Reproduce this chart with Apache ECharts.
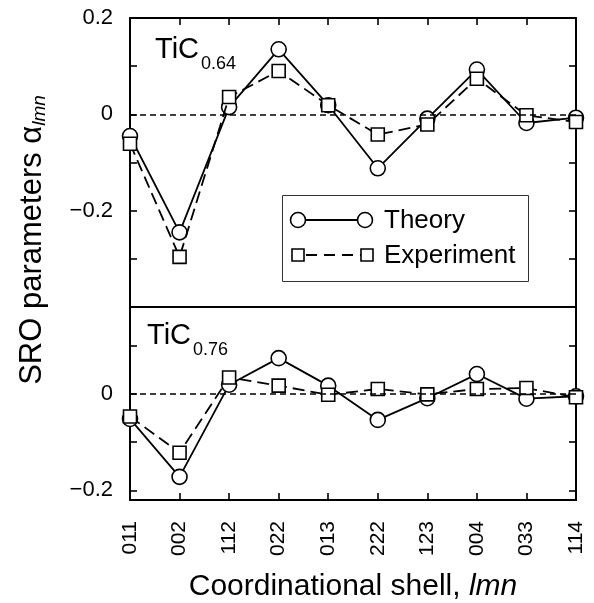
<!DOCTYPE html>
<html>
<head>
<meta charset="utf-8">
<script src="https://cdn.jsdelivr.net/npm/echarts@6/dist/echarts.min.js"></script>
<style>
  html, body { margin: 0; padding: 0; background: #fff; }
  #chart { width: 594px; height: 603px; }
</style>
</head>
<body>
<div id="chart"></div>
<script>
// 配位壳层
const categories = ['011', '002', '112', '022', '013', '222', '123', '004', '033', '114'];

// TiC0.64
const theory064 = [-0.045, -0.245, 0.015, 0.135, 0.019, -0.112, -0.009, 0.093, -0.018, -0.007];
const experiment064 = [-0.061, -0.296, 0.036, 0.090, 0.019, -0.042, -0.021, 0.074, -0.002, -0.016];

// TiC0.76
const theory076 = [-0.052, -0.172, 0.019, 0.074, 0.017, -0.054, -0.009, 0.041, -0.010, -0.005];
const experiment076 = [-0.047, -0.122, 0.034, 0.017, -0.002, 0.010, -0.001, 0.010, 0.012, -0.007];

// 刻度
const topLabels = [-0.2, 0, 0.2];
const topTicks = [-0.3, -0.2, -0.1, 0, 0.1];
const bottomLabels = [-0.2, 0];
const bottomTicks = [-0.2, -0.1, 0, 0.1];

const FONT = 'Liberation Sans, Arial, Helvetica, sans-serif';
const axisLine = { show: true, onZero: false, lineStyle: { color: '#000', width: 2 } };
const tickStyle = { color: '#000', width: 1.6 };

function fmt(v) {
	if (Math.abs(v) < 1e-9) return '0';
	return (v < 0 ? '\u2212' : '') + Math.abs(v).toFixed(1);
}

function yAxisFor(gridIndex, min, max, labels, ticks, left) {
	return {
		type: 'value', gridIndex, min, max,
		position: left ? 'left' : 'right',
		axisLine,
		splitLine: { show: false },
		axisTick: { show: true, inside: true, length: 7, lineStyle: tickStyle, customValues: ticks },
		axisLabel: {
			show: left, customValues: labels, formatter: fmt, margin: 17,
			fontFamily: FONT, fontSize: 22, color: '#000'
		}
	};
}

function xAxisFor(gridIndex, position, ticks, labels) {
	return {
		type: 'category', gridIndex, data: categories, position,
		boundaryGap: false,
		axisLine,
		splitLine: { show: false },
		axisTick: { show: ticks, inside: true, length: 7, lineStyle: tickStyle },
		axisLabel: {
			show: labels, rotate: 90, margin: 21, interval: 0,
			fontFamily: FONT, fontSize: 21, color: '#000'
		}
	};
}

const zeroLine = {
	silent: true, symbol: 'none', label: { show: false },
	lineStyle: { color: '#000', type: [6, 4], width: 1.5 },
	data: [{ yAxis: 0 }]
};

function series(name, data, xi, yi, isTheory, mark) {
	const s = {
		name, type: 'line', data, xAxisIndex: xi, yAxisIndex: yi,
		clip: false, z: isTheory ? 3 : 4,
		symbol: isTheory ? 'circle' : 'rect',
		symbolSize: isTheory ? 15 : 13,
		itemStyle: { color: '#fff', borderColor: '#000', borderWidth: 1.6 },
		lineStyle: { color: '#000', width: 1.8, type: isTheory ? 'solid' : [12, 6] },
		emphasis: { disabled: true }
	};
	if (mark) s.markLine = zeroLine;
	return s;
}

const chart = echarts.init(document.getElementById('chart'));

chart.setOption({
	animation: false,
	backgroundColor: '#fff',
	textStyle: { fontFamily: FONT },
	grid: [
		{ left: 130, top: 18, width: 446, height: 289 },
		{ left: 130, top: 307, width: 446, height: 195 }
	],
	xAxis: [
		xAxisFor(0, 'bottom', false, false),
		xAxisFor(0, 'top', true, false),
		Object.assign(xAxisFor(1, 'bottom', true, true), {
			name: 'Coordinational shell, {i|lmn}',
			nameLocation: 'middle', nameGap: 72,
			nameTextStyle: {
				fontFamily: FONT, fontSize: 30, color: '#000',
				rich: { i: { fontFamily: FONT, fontSize: 30, fontStyle: 'italic', color: '#000' } }
			}
		})
	],
	yAxis: [
		yAxisFor(0, -0.4, 0.2, topLabels, topTicks, true),
		yAxisFor(0, -0.4, 0.2, topLabels, topTicks, false),
		yAxisFor(1, -0.22, 0.18, bottomLabels, bottomTicks, true),
		yAxisFor(1, -0.22, 0.18, bottomLabels, bottomTicks, false)
	],
	series: [
		series('Theory', theory064, 0, 0, true, true),
		series('Experiment', experiment064, 0, 0, false, false),
		series('Theory', theory076, 2, 2, true, true),
		series('Experiment', experiment076, 2, 2, false, false)
	],
	graphic: [
		// y 轴标题
		{
			type: 'text', x: 32, y: 240, rotation: Math.PI / 2, z: 10,
			style: {
				text: 'SRO parameters \u03b1{s|lmn}',
				fontFamily: FONT, fontSize: 31, fill: '#000',
				align: 'center', verticalAlign: 'middle',
				rich: { s: { fontFamily: FONT, fontSize: 19, fontStyle: 'italic', fill: '#000', verticalAlign: 'bottom', padding: [15, 0, 0, 0] } }
			}
		},
		// 面板标签
		{ type: 'text', x: 155, y: 50, z: 10, style: { text: 'TiC', fontFamily: FONT, fontSize: 29, fill: '#000', verticalAlign: 'middle' } },
		{ type: 'text', x: 201, y: 64, z: 10, style: { text: '0.64', fontFamily: FONT, fontSize: 18, fill: '#000', verticalAlign: 'middle' } },
		{ type: 'text', x: 147, y: 336, z: 10, style: { text: 'TiC', fontFamily: FONT, fontSize: 29, fill: '#000', verticalAlign: 'middle' } },
		{ type: 'text', x: 193, y: 350, z: 10, style: { text: '0.76', fontFamily: FONT, fontSize: 18, fill: '#000', verticalAlign: 'middle' } },
		// 图例
		{ type: 'rect', z: 10, shape: { x: 282.5, y: 195.5, width: 246, height: 86 }, style: { fill: '#fff', stroke: '#333', lineWidth: 1 } },
		{ type: 'line', z: 11, shape: { x1: 298, y1: 220, x2: 365, y2: 220 }, style: { stroke: '#000', lineWidth: 1.8 } },
		{ type: 'circle', z: 12, shape: { cx: 298, cy: 220, r: 7.5 }, style: { fill: '#fff', stroke: '#000', lineWidth: 1.6 } },
		{ type: 'circle', z: 12, shape: { cx: 365, cy: 220, r: 7.5 }, style: { fill: '#fff', stroke: '#000', lineWidth: 1.6 } },
		{ type: 'text', z: 12, x: 384, y: 221, style: { text: 'Theory', fontFamily: FONT, fontSize: 26, fill: '#000', verticalAlign: 'middle' } },
		{ type: 'line', z: 11, shape: { x1: 298, y1: 255, x2: 367, y2: 255 }, style: { stroke: '#000', lineWidth: 1.8, lineDash: [11, 7], lineDashOffset: -8 } },
		{ type: 'rect', z: 12, shape: { x: 292, y: 249, width: 12, height: 12 }, style: { fill: '#fff', stroke: '#000', lineWidth: 1.6 } },
		{ type: 'rect', z: 12, shape: { x: 361, y: 249, width: 12, height: 12 }, style: { fill: '#fff', stroke: '#000', lineWidth: 1.6 } },
		{ type: 'text', z: 12, x: 384, y: 256, style: { text: 'Experiment', fontFamily: FONT, fontSize: 26, fill: '#000', verticalAlign: 'middle' } }
	]
});
</script>
</body>
</html>
